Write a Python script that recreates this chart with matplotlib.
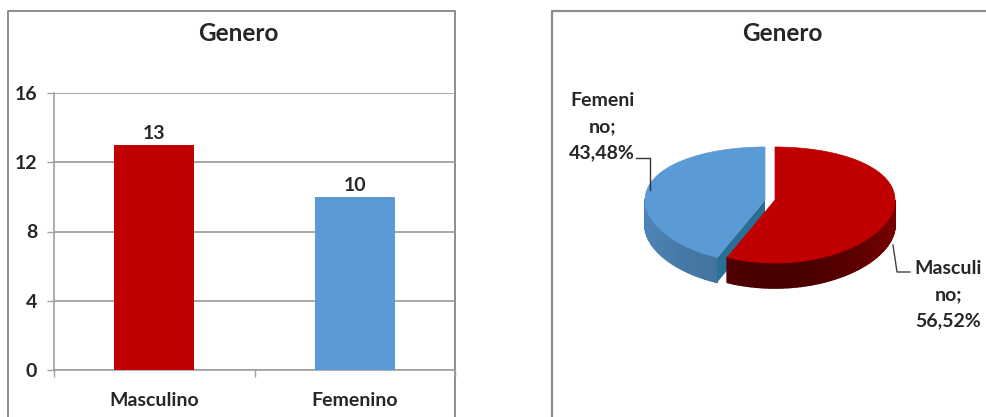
import numpy as np
import matplotlib
matplotlib.use("Agg")
import matplotlib.pyplot as plt
from matplotlib.collections import PolyCollection
from matplotlib.colors import to_rgb
from matplotlib.patches import Polygon

categorias = ["Masculino", "Femenino"]
valores = [13, 10]
ticks_y = [0, 4, 8, 12, 16]
etiquetas_pie = ["Masculi\nno;\n56,52%", "Femeni\nno;\n43,48%"]
titulo = "Genero"

ROJO = "#C00000"
AZUL = "#5B9BD5"
GRIS = "#8C8C8C"
LINEA = "#A0A0A0"
TEXTO = "#262626"

plt.rcParams["font.family"] = ["Lato", "DejaVu Sans"]
W, H = 986, 417
fig = plt.figure(figsize=(W / 100, H / 100), dpi=100, facecolor="white")

# capa en pixeles para marcos, pastel y textos
capa = fig.add_axes([0, 0, 1, 1])
capa.set_xlim(0, W)
capa.set_ylim(H, 0)
capa.axis("off")

# marcos de los dos graficos (cortados abajo como en la captura)
capa.plot([8, 8, 455, 455], [H, 11, 11, H], color=GRIS, lw=1.4)
capa.plot([552, 552, W], [H, 11, 11], color=GRIS, lw=1.6)

# Grafico de barras
ax = fig.add_axes([54 / W, (H - 370) / H, 401 / W, 277 / H])
ax.patch.set_alpha(0)
ax.bar(range(len(valores)), valores, width=0.4, color=[ROJO, AZUL], zorder=3)
ax.set_xlim(-0.5, 1.5)
ax.set_ylim(0, 16)
ax.set_yticks(ticks_y)
ax.grid(axis="y", color=LINEA, lw=1.3, zorder=0)
ax.set_xticks([-0.5, 0.5, 1.5], labels=[])
ax.set_xticks(range(len(categorias)), labels=categorias, minor=True)
ax.tick_params(axis="x", which="minor", length=0, pad=15.5, labelsize=14, labelcolor=TEXTO)
ax.tick_params(axis="x", which="major", length=5, width=1, color=LINEA)
ax.tick_params(axis="y", length=5, width=1, color=LINEA, pad=7, labelsize=14, labelcolor=TEXTO)
for lab in ax.get_yticklabels() + ax.get_xminorticklabels():
    lab.set_fontweight("bold")
for lado in ["top", "right"]:
    ax.spines[lado].set_visible(False)
for lado in ["left", "bottom"]:
    ax.spines[lado].set_color(LINEA)
    ax.spines[lado].set_linewidth(1.2)
for i, v in enumerate(valores):
    ax.annotate(str(v), (i, v), xytext=(0, 2), textcoords="offset points", ha="center", va="bottom",
                fontsize=14, fontweight="bold", color=TEXTO)

capa.text(238, 33, titulo, ha="center", va="center", fontsize=17.5, fontweight="bold", color=TEXTO)
capa.text(782, 33, titulo, ha="center", va="center", fontsize=17.5, fontweight="bold", color=TEXTO)


# Pastel 3D: proyeccion de un circulo unidad a pixeles
RX = 120
PROF = 25


def proyectar(ang, cx, cy, r=1.0):
    # angulo en grados, horario desde las 12; el frente del disco se ve mas grande
    a = np.radians(ang)
    x = r * np.sin(a)
    y = r * np.cos(a)
    return cx + RX * x, cy - (58 * y - 5 * y * y)


def oscurecer(color, f):
    return tuple(c * f for c in to_rgb(color))


def rebanada(ini, fin, cx, cy, color, f_borde, f_medio):
    angs = np.linspace(ini, fin, 120)
    # pared lateral: solo la parte que mira hacia el frente
    quads, cols = [], []
    for a0, a1 in zip(angs[:-1], angs[1:]):
        m = (a0 + a1) / 2
        if 90 <= m <= 270:
            x0, y0 = proyectar(a0, cx, cy)
            x1, y1 = proyectar(a1, cx, cy)
            quads.append([(x0, y0), (x1, y1), (x1, y1 + PROF), (x0, y0 + PROF)])
            t = abs(np.cos(np.radians(m - 180)))
            cols.append(oscurecer(color, f_borde + (f_medio - f_borde) * t ** 2))
    capa.add_collection(PolyCollection(quads, facecolors=cols, edgecolors=cols, linewidths=1.2, zorder=3))
    xs, ys = proyectar(angs, cx, cy)
    return list(zip(xs, ys))


total = sum(valores)
corte = 360 * valores[0] / total

# rebanada azul separada hacia la izquierda
borde_azul = rebanada(corte, 360, 765, 200, AZUL, 0.85, 0.72)
cara_x, cara_y = proyectar(corte, 765, 200)
capa.add_patch(Polygon([(765, 200), (cara_x, cara_y), (cara_x, cara_y + PROF), (765, 200 + PROF)],
                       facecolor="#2A6F96", edgecolor="none", zorder=3))
capa.add_patch(Polygon([(765, 200)] + borde_azul, facecolor=AZUL, edgecolor=AZUL, lw=0.5, zorder=4))

# rebanada roja
borde_rojo = rebanada(0, corte, 775, 200, ROJO, 0.62, 0.38)
capa.add_patch(Polygon([(775, 200)] + borde_rojo, facecolor=ROJO, edgecolor=ROJO, lw=0.5, zorder=5))

# lineas guia y etiquetas
capa.plot([636, 650, 650], [158, 158, 190], color="#333333", lw=1, zorder=6)
capa.plot([893, 897, 910], [245, 272, 272], color="#404040", lw=1, zorder=2)
capa.text(948, 295, etiquetas_pie[0], ha="center", va="center", fontsize=14, fontweight="bold",
          color=TEXTO, linespacing=1.65)
capa.text(602, 127, etiquetas_pie[1], ha="center", va="center", fontsize=14, fontweight="bold",
          color=TEXTO, linespacing=1.65)

fig.savefig("out.png", dpi=100)
